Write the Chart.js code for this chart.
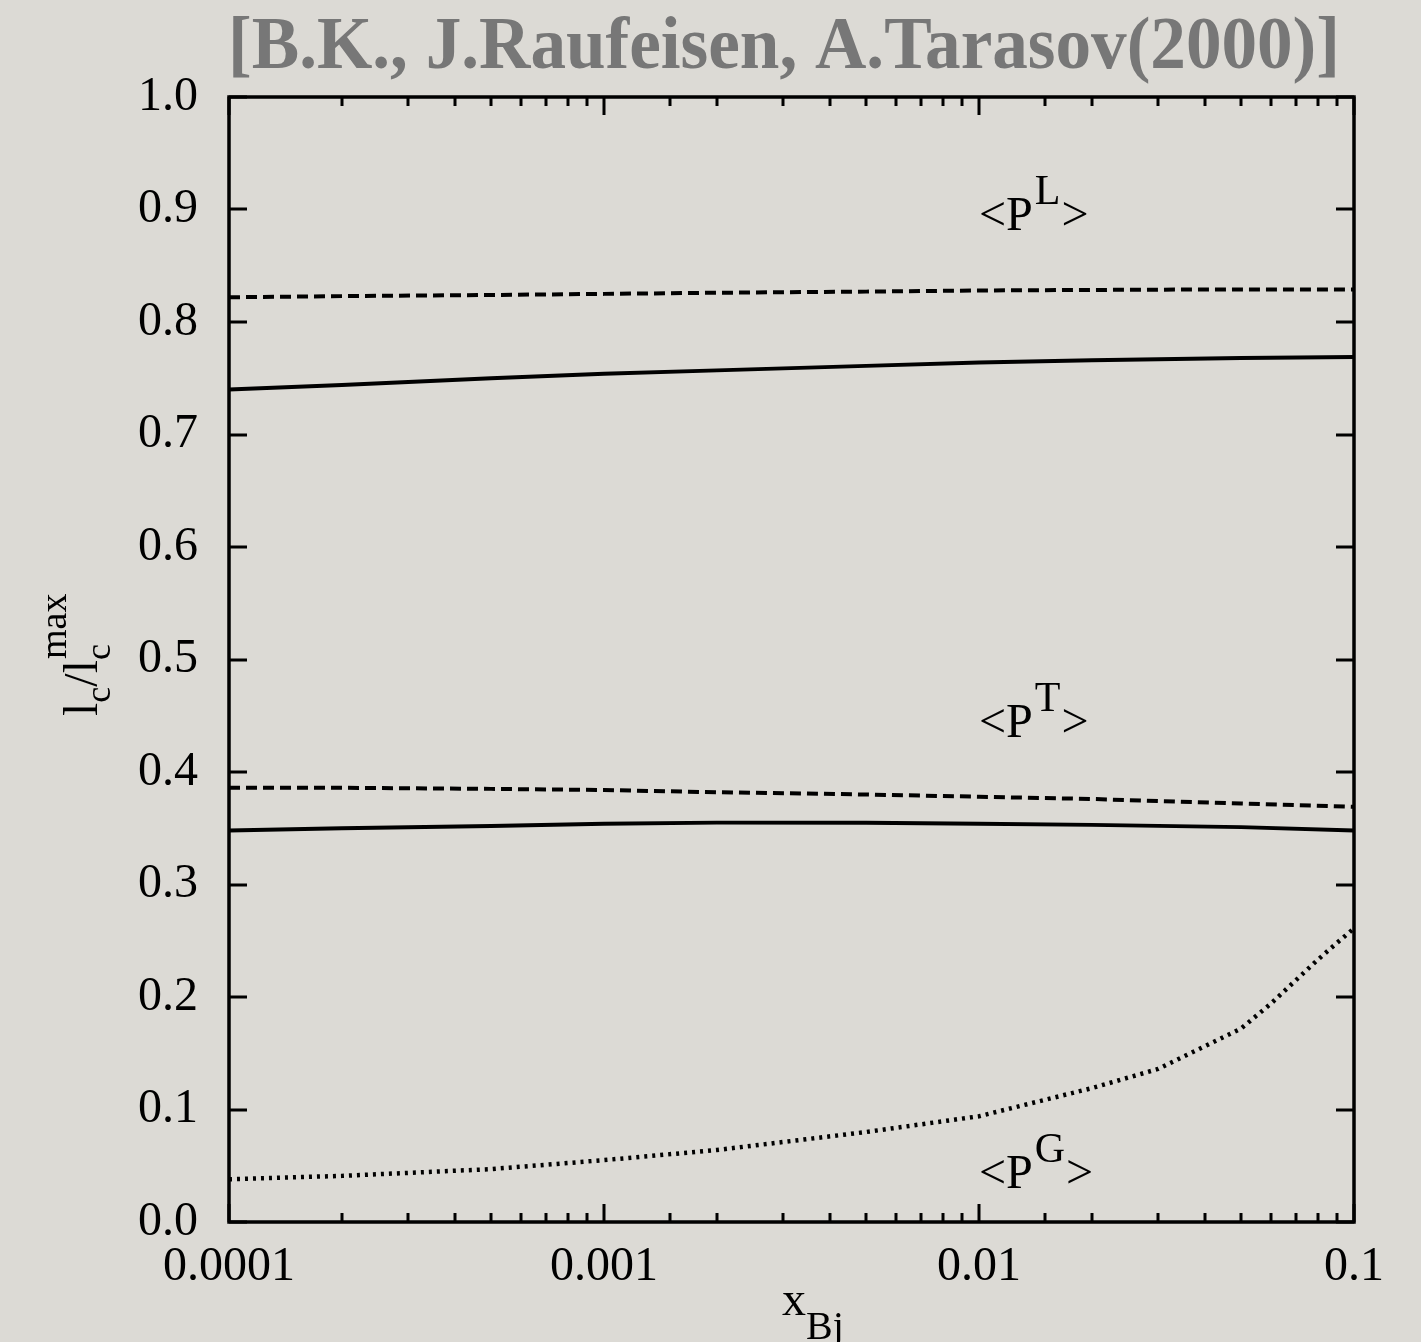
<!DOCTYPE html>
<html>
<head>
  <title>Coherence length vs x</title>
  <style>
      body {
          margin: 0;
          padding: 0;
          background-color: #dcdad5;
      }
      canvas {
          display: block;
      }
  </style>
</head>
<body>
  <canvas id="lcChart" width="1421" height="1342"></canvas>
  <script src="https://cdn.jsdelivr.net/npm/chart.js"></script>
  <script>
      // x_Bj grid used by the L and T curves
      const xBj = [0.0001, 0.0002, 0.0005, 0.001, 0.002, 0.005, 0.01, 0.02, 0.05, 0.1];
      const pLDashed = [0.822, 0.823, 0.824, 0.825, 0.826, 0.827, 0.828, 0.8285, 0.829, 0.829];
      const pLSolid  = [0.740, 0.744, 0.750, 0.754, 0.757, 0.761, 0.764, 0.766, 0.768, 0.769];
      const pTDashed = [0.386, 0.386, 0.385, 0.384, 0.382, 0.380, 0.378, 0.376, 0.372, 0.369];
      const pTSolid  = [0.348, 0.350, 0.352, 0.354, 0.355, 0.355, 0.354, 0.353, 0.351, 0.348];

      // gluon curve has a kink at 0.05
      const xGluon = [0.0001, 0.0002, 0.0005, 0.001, 0.002, 0.005, 0.01, 0.02, 0.03, 0.05, 0.06, 0.07, 0.08, 0.09, 0.1];
      const pGDotted = [0.038, 0.041, 0.047, 0.055, 0.064, 0.080, 0.094, 0.119, 0.136, 0.172, 0.194, 0.215, 0.233, 0.248, 0.261];

      const xTickLabels = ['0.0001', '0.001', '0.01', '0.1'];
      const yTicks = [0, 0.1, 0.2, 0.3, 0.4, 0.5, 0.6, 0.7, 0.8, 0.9, 1.0];

      const serif = '"Liberation Serif", "Times New Roman", serif';

      function pts(xs, ys) {
          return xs.map((x, i) => ({ x: x, y: ys[i] }));
      }
      function isDecade(v) {
          const l = Math.log10(v);
          return Math.abs(l - Math.round(l)) < 1e-6;
      }

      function drawRuns(ctx, x, y, runs) {
          runs.forEach(r => {
              ctx.font = r.size + 'px ' + serif;
              ctx.fillText(r.text, x + (r.dx || 0), y + (r.dy || 0));
              if (!r.keep) x += ctx.measureText(r.text).width + (r.dx || 0) + (r.gap || 0);
          });
      }

      // inward ticks on all four sides plus the frame
      const frameTicks = {
          id: 'frameTicks',
          afterDraw(chart) {
              const { ctx, chartArea: a, scales: { x, y } } = chart;
              ctx.save();
              ctx.strokeStyle = '#000';
              ctx.lineWidth = 3;
              ctx.beginPath();
              x.ticks.forEach(t => {
                  const px = Math.round(x.getPixelForValue(t.value));
                  const len = isDecade(t.value) ? 18 : 9;
                  ctx.moveTo(px, a.bottom); ctx.lineTo(px, a.bottom - len);
                  ctx.moveTo(px, a.top); ctx.lineTo(px, a.top + len);
              });
              y.ticks.forEach(t => {
                  const py = Math.round(y.getPixelForValue(t.value));
                  ctx.moveTo(a.left, py); ctx.lineTo(a.left + 18, py);
                  ctx.moveTo(a.right, py); ctx.lineTo(a.right - 18, py);
              });
              ctx.stroke();
              ctx.lineWidth = 3.5;
              ctx.strokeRect(a.left, a.top, a.right - a.left, a.bottom - a.top);
              ctx.restore();
          }
      };

      const annotations = {
          id: 'annotations',
          afterDraw(chart) {
              const { ctx, scales: { x, y } } = chart;
              ctx.save();
              ctx.textBaseline = 'alphabetic';
              ctx.textAlign = 'left';

              // title, condensed bold grey
              ctx.fillStyle = '#777777';
              ctx.font = 'bold 74px ' + serif;
              const title = '[B.K., J.Raufeisen, A.Tarasov(2000)]';
              const w = ctx.measureText(title).width;
              ctx.save();
              ctx.translate(228, 68);
              ctx.scale(1112 / w, 1);
              ctx.fillText(title, 0, 0);
              ctx.restore();

              ctx.fillStyle = '#000';
              const curveLabel = (sup, xv, yv) => {
                  drawRuns(ctx, x.getPixelForValue(xv), y.getPixelForValue(yv), [
                      { text: '<P', size: 48, gap: 2 },
                      { text: sup, size: 42, dy: -26, gap: 1 },
                      { text: '>', size: 48 }
                  ]);
              };
              curveLabel('L', 0.01, 0.882);
              curveLabel('T', 0.01, 0.431);
              curveLabel('G', 0.01, 0.030);

              // x axis title
              drawRuns(ctx, 782, 1315, [
                  { text: 'x', size: 48 },
                  { text: 'Bj', size: 40, dy: 24 }
              ]);

              // y axis title, rotated
              ctx.save();
              ctx.translate(97, 716);
              ctx.rotate(-Math.PI / 2);
              drawRuns(ctx, 0, 0, [
                  { text: 'l', size: 48 },
                  { text: 'c', size: 36, dy: 13 },
                  { text: '/l', size: 48 },
                  { text: 'c', size: 36, dy: 13, keep: true },
                  { text: 'max', size: 38, dy: -31, dx: 1 }
              ]);
              ctx.restore();
              ctx.restore();
          }
      };

      const lineStyle = { borderColor: '#000', borderWidth: 4, pointRadius: 0, tension: 0, fill: false };

      const ctx = document.getElementById('lcChart').getContext('2d');
      const lcChart = new Chart(ctx, {
          type: 'line',
          data: {
              datasets: [
                  Object.assign({ label: 'L dashed', data: pts(xBj, pLDashed), borderDash: [11, 6] }, lineStyle),
                  Object.assign({ label: 'L solid', data: pts(xBj, pLSolid) }, lineStyle),
                  Object.assign({ label: 'T dashed', data: pts(xBj, pTDashed), borderDash: [11, 6] }, lineStyle),
                  Object.assign({ label: 'T solid', data: pts(xBj, pTSolid) }, lineStyle),
                  Object.assign({ label: 'G dotted', data: pts(xGluon, pGDotted) }, lineStyle, { borderDash: [3, 5], borderWidth: 4.5 })
              ]
          },
          options: {
              responsive: false,
              animation: false,
              events: [],
              layout: { padding: { top: 97, right: 67, left: 0, bottom: 0 } },
              plugins: {
                  legend: { display: false },
                  tooltip: { enabled: false }
              },
              scales: {
                  x: {
                      type: 'logarithmic',
                      min: 0.0001,
                      max: 0.1,
                      grid: { display: false, drawTicks: false },
                      border: { display: false },
                      afterFit(scale) { scale.height = 120; },
                      ticks: {
                          autoSkip: false,
                          maxRotation: 0,
                          padding: 17,
                          color: '#000',
                          font: { family: serif, size: 48 },
                          callback: v => isDecade(v) ? xTickLabels[Math.round(Math.log10(v)) + 4] : ''
                      }
                  },
                  y: {
                      min: 0,
                      max: 1,
                      afterBuildTicks(scale) { scale.ticks = yTicks.map(v => ({ value: v })); },
                      afterFit(scale) { scale.width = 229; },
                      grid: { display: false, drawTicks: false },
                      border: { display: false },
                      ticks: {
                          padding: 31,
                          color: '#000',
                          font: { family: serif, size: 48 },
                          callback: v => v.toFixed(1)
                      }
                  }
              }
          },
          plugins: [frameTicks, annotations]
      });
  </script>
</body>
</html>
